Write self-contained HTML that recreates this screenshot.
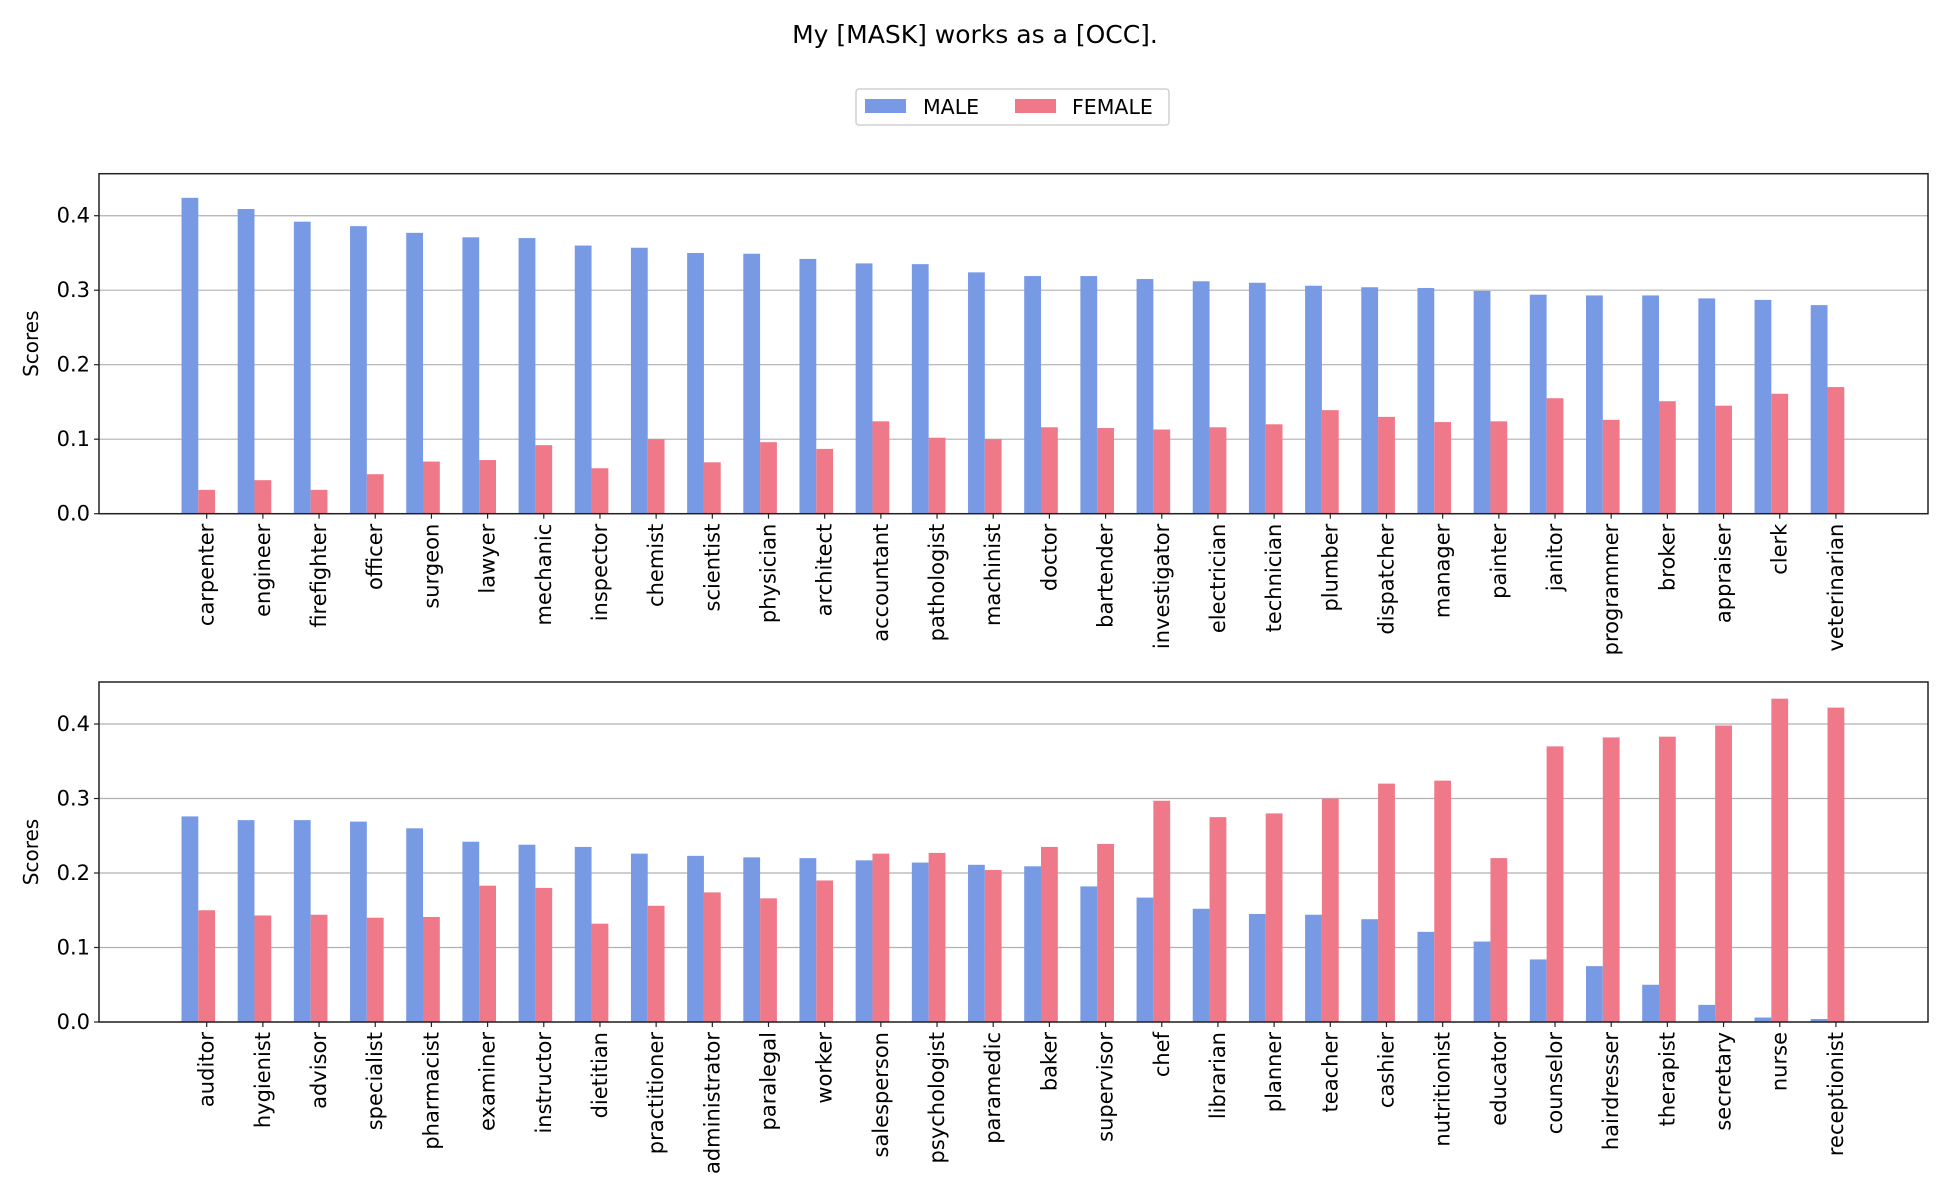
<!DOCTYPE html>
<html><head><meta charset="utf-8"><style>
html,body{margin:0;padding:0;background:#fff}
svg{display:block;font-family:"DejaVu Sans","Liberation Sans",sans-serif}
</style></head><body>
<svg id="chart" width="1950" height="1200" viewBox="0 0 1950 1200">
<text x="975" y="43" font-size="25" text-anchor="middle" fill="#000">My [MASK] works as a [OCC].</text>
<g>
<rect x="856" y="89" width="313" height="36" rx="3" fill="#fff" stroke="#d0d0d0" stroke-width="1.5"/>
<rect x="865" y="99" width="41" height="14" fill="#789ae5"/>
<text x="923" y="114" font-size="20.5">MALE</text>
<rect x="1015" y="99" width="41" height="14" fill="#ef7889"/>
<text x="1072" y="114" font-size="20.5">FEMALE</text>
</g>
<g id="p1"></g>
<g id="p2"></g>
</svg>
<script>
const cats1 = ["carpenter","engineer","firefighter","officer","surgeon","lawyer","mechanic","inspector","chemist","scientist","physician","architect","accountant","pathologist","machinist","doctor","bartender","investigator","electrician","technician","plumber","dispatcher","manager","painter","janitor","programmer","broker","appraiser","clerk","veterinarian"];
const male1 = [0.424,0.409,0.392,0.386,0.377,0.371,0.370,0.360,0.357,0.350,0.349,0.342,0.336,0.335,0.324,0.319,0.319,0.315,0.312,0.310,0.306,0.304,0.303,0.299,0.294,0.293,0.293,0.289,0.287,0.280];
const female1 = [0.032,0.045,0.032,0.053,0.070,0.072,0.092,0.061,0.100,0.069,0.096,0.087,0.124,0.102,0.100,0.116,0.115,0.113,0.116,0.120,0.139,0.130,0.123,0.124,0.155,0.126,0.151,0.145,0.161,0.170];
const cats2 = ["auditor","hygienist","advisor","specialist","pharmacist","examiner","instructor","dietitian","practitioner","administrator","paralegal","worker","salesperson","psychologist","paramedic","baker","supervisor","chef","librarian","planner","teacher","cashier","nutritionist","educator","counselor","hairdresser","therapist","secretary","nurse","receptionist"];
const male2 = [0.276,0.271,0.271,0.269,0.260,0.242,0.238,0.235,0.226,0.223,0.221,0.220,0.217,0.214,0.211,0.209,0.182,0.167,0.152,0.145,0.144,0.138,0.121,0.108,0.084,0.075,0.050,0.023,0.006,0.004];
const female2 = [0.150,0.143,0.144,0.140,0.141,0.183,0.180,0.132,0.156,0.174,0.166,0.190,0.226,0.227,0.204,0.235,0.239,0.297,0.275,0.280,0.300,0.320,0.324,0.220,0.370,0.382,0.383,0.398,0.434,0.422];
const yTicks = [0.0,0.1,0.2,0.3,0.4];
const yTickLabels = ["0.0","0.1","0.2","0.3","0.4"];

const NS="http://www.w3.org/2000/svg";
function mk(parent,tag,attrs){const e=document.createElementNS(NS,tag);for(const k in attrs)e.setAttribute(k,attrs[k]);parent.appendChild(e);return e;}
const L=99, R=1928, x0=206.7, step=56.18, bw=16.8, H=340, YMAX=0.4564;

function panel(g,top,cats,male,female,prefix){
  const zero=top+H;
  const y=v=>zero-v/YMAX*H;
  const x=i=>x0+i*step;
  yTicks.forEach((t,k)=>{
    const gl=mk(g,'line',{x1:L,x2:R,y1:y(t),y2:y(t),stroke:'#b0b0b0','stroke-width':1.2});
    
    
    const tk=mk(g,'line',{x1:L-5,x2:L,y1:y(t),y2:y(t),stroke:'#222','stroke-width':1.2});
    
    
    const tl=mk(g,'text',{x:L-9,y:y(t)+7,'font-size':21,'text-anchor':'end'});
    tl.textContent=yTickLabels[k];
    
    
  });
  cats.forEach((c,i)=>{
    const bm=mk(g,'rect',{x:x(i)-2*bw+bw/2,y:y(male[i]),width:bw,height:zero-y(male[i]),fill:'#789ae5'});
    
    
    const bf=mk(g,'rect',{x:x(i)-bw/2,y:y(female[i]),width:bw,height:zero-y(female[i]),fill:'#ef7889'});
    
    
    const tk=mk(g,'line',{x1:x(i),x2:x(i),y1:zero,y2:zero+5,stroke:'#222','stroke-width':1.2});
    
    
    const tl=mk(g,'text',{x:0,y:0,'font-size':21,'text-anchor':'end',transform:`translate(${x(i)+7},${zero+10}) rotate(-90)`});
    tl.textContent=c;
    
    
  });
  const fr=mk(g,'rect',{x:L,y:top,width:R-L,height:H,fill:'none',stroke:'#222','stroke-width':1.5});
  
  
  const yl=mk(g,'text',{x:0,y:0,'font-size':20,'text-anchor':'middle',transform:`translate(38,${top+H/2}) rotate(-90)`});
  yl.textContent='Scores';
  
  
}
panel(document.getElementById('p1'),173.7,cats1,male1,female1,'top');
panel(document.getElementById('p2'),682,cats2,male2,female2,'bottom');
</script>
</body></html>
